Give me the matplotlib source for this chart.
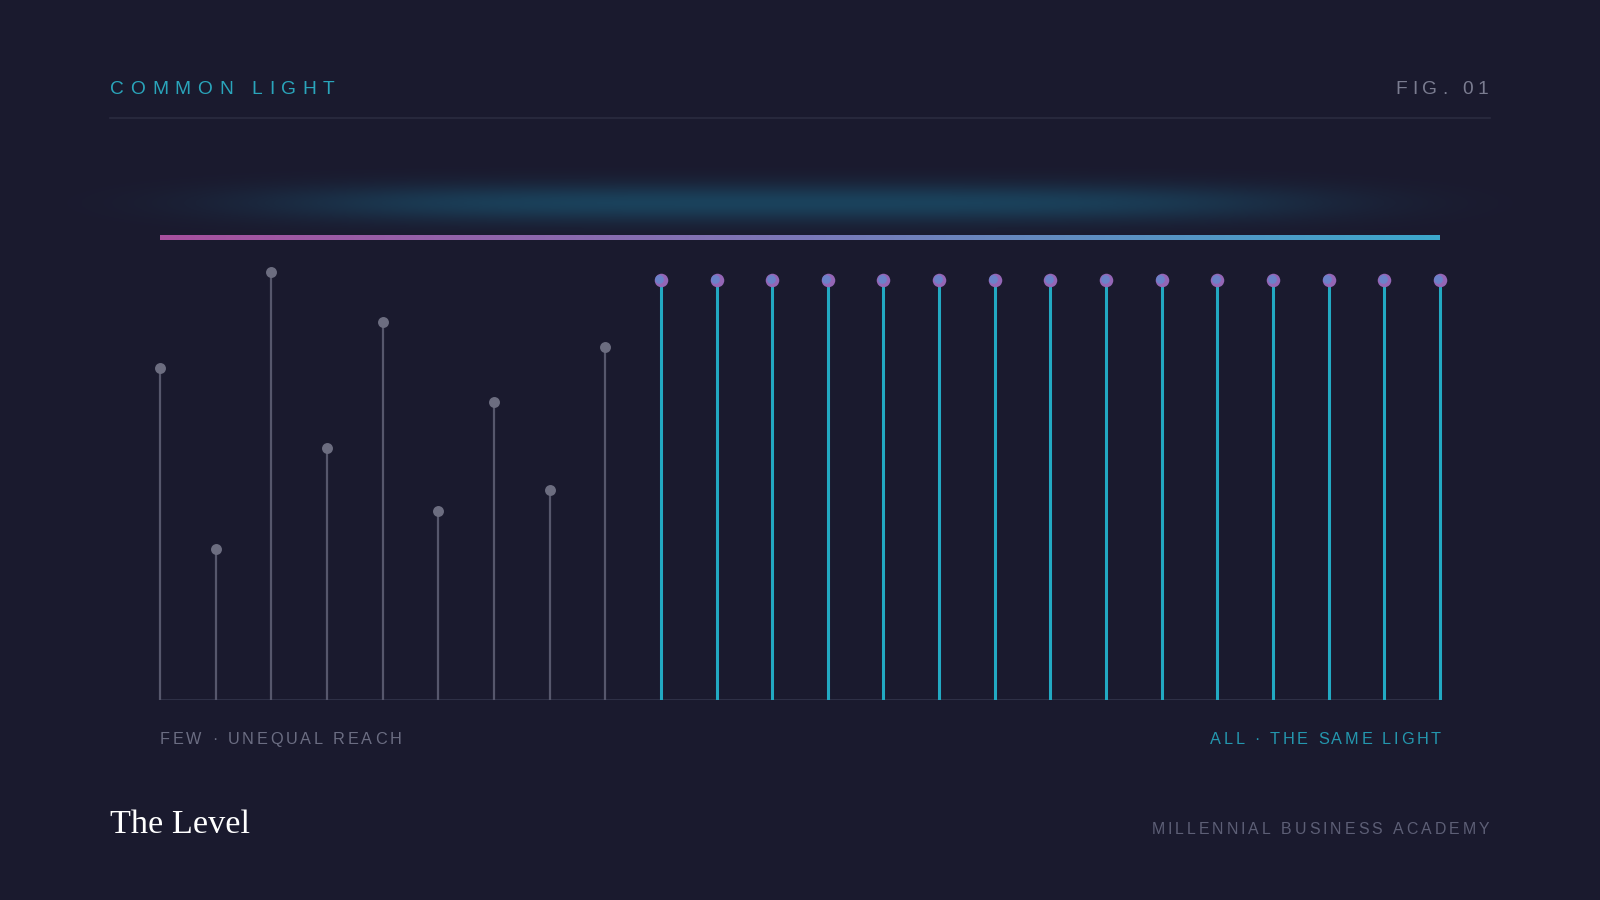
import numpy as np
import matplotlib
matplotlib.use("Agg")
import matplotlib.pyplot as plt
import matplotlib.transforms as mtransforms
from matplotlib.colors import LinearSegmentedColormap, to_rgb
from matplotlib.font_manager import FontProperties

# data
few_values = [79, 36, 102, 60, 90, 45, 71, 50, 84]
all_values = [100] * 15
level = 110

title = "COMMON LIGHT"
fig_label = "FIG. 01"
left_label = "FEW · UNEQUAL REACH"
right_label = "ALL · THE SAME LIGHT"
brand = "The Level"
org = "MILLENNIAL BUSINESS ACADEMY"

BG = "#1a1a2e"
TEAL = "#22a9c2"
GREY_STEM = "#56576c"
GREY_DOT = "#6c6d80"
DPI = 100

fig = plt.figure(figsize=(16, 9), dpi=DPI, facecolor=BG)

# chart axes: stems 55.65px apart starting at x=160, baseline at y=700, 4.2 px per unit
n = len(few_values) + len(all_values)
ax = fig.add_axes([132.2 / 1600, 200 / 900, 1335.6 / 1600, 462 / 900])
ax.set_facecolor("none")
ax.set_xlim(-0.5, n - 0.5)
ax.set_ylim(0, 110)
ax.axis("off")

x_few = np.arange(len(few_values))
x_all = np.arange(len(few_values), n)

ax.hlines(0, 0, n - 1, color="#33354b", lw=1.2, zorder=1)
ax.vlines(x_few, 0, few_values, color=GREY_STEM, lw=1.6, zorder=2)
ax.scatter(x_few, few_values, s=62, color=GREY_DOT, zorder=3, linewidths=0)
ax.vlines(x_all, 0, all_values, color=TEAL, lw=2.2, zorder=2)
ax.scatter(x_all, all_values, s=95, color="#9466b6", zorder=3, linewidths=0)
shift = mtransforms.offset_copy(ax.transData, fig=fig, x=-1.5, y=1.5, units="dots")
ax.scatter(x_all, all_values, s=40, color="#5a8ed2", alpha=0.7, zorder=4,
           linewidths=0, transform=shift)

# overlay in pixel coordinates for decoration and text
ov = fig.add_axes([0, 0, 1, 1])
ov.set_facecolor("none")
ov.axis("off")

# glow above the level line
gx = np.linspace(0, 1600, 800)
gy = np.linspace(140, 270, 130)
GX, GY = np.meshgrid(gx, gy)
alpha = 0.5 * np.exp(-((GX - 790) / 520) ** 4) * np.exp(-((GY - 203) / 19) ** 2)
glow = np.zeros(GX.shape + (4,))
glow[..., :3] = to_rgb("#1a6a8a")
glow[..., 3] = alpha
ov.imshow(glow, extent=(0, 1600, 270, 140), aspect="auto", interpolation="bilinear", zorder=1)

# the level line with a gradient
bar_cmap = LinearSegmentedColormap.from_list("bar", ["#a8509e", "#7c78b8", "#3ca8cc"])
bar = np.linspace(0, 1, 512).reshape(1, -1)
bar_top = 700 - level * 4.2 - 2.5
ov.imshow(bar, cmap=bar_cmap, extent=(160, 1440, bar_top + 5, bar_top),
          aspect="auto", interpolation="bilinear", zorder=2)

# header rule
ov.plot([110, 1490], [118, 118], color="#2a2b40", lw=1.2, zorder=2)

ov.set_xlim(0, 1600)
ov.set_ylim(900, 0)

renderer = fig.canvas.get_renderer()


def tracked(x, y, s, size, color, track, ha="left", family="Liberation Sans"):
    prop = FontProperties(family=family, size=size)
    px = size * DPI / 72
    adv = []
    for c in s:
        if c == " ":
            adv.append(0.28 * px)
        else:
            adv.append(renderer.get_text_width_height_descent(c, prop, ismath=False)[0])
    total = sum(adv) + track * px * (len(s) - 1)
    cur = x - total if ha == "right" else x
    for c, a in zip(s, adv):
        if c != " ":
            ov.text(cur, y, c, fontproperties=prop, color=color, ha="left", va="baseline")
        cur += a + track * px


tracked(110, 94, title, 13.8, "#2aa5bb", 0.35)
tracked(1488, 94, fig_label, 13.8, "#7a7c90", 0.25, ha="right")
tracked(160, 744, left_label, 11.7, "#6b6d82", 0.17)
tracked(1441, 744, right_label, 11.7, "#2497ae", 0.165, ha="right")
tracked(1489, 834, org, 11.4, "#5d5f76", 0.19, ha="right")

ov.text(110, 833, brand, family="Liberation Serif", fontsize=24.7, color="white",
        ha="left", va="baseline")

fig.savefig("out.png", dpi=DPI, facecolor=BG)
